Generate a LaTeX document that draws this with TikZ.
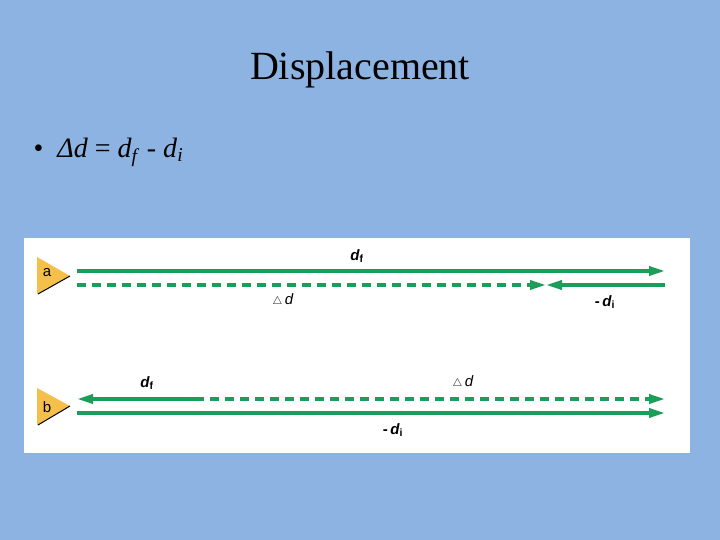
\documentclass[tikz,border=0pt]{standalone}
\usepackage{fontspec}
\setmainfont{Liberation Serif}
\newfontfamily\arialf{Liberation Sans}
\usetikzlibrary{arrows.meta}
\definecolor{bgblue}{HTML}{8DB3E2}
\definecolor{vgreen}{HTML}{1B9E5A}
\definecolor{tyellow}{HTML}{F4BF4A}
\begin{document}
\begin{tikzpicture}[x=1pt,y=-1pt,
  vec/.style={draw=vgreen,line width=3.5pt,-{Triangle[length=16pt,width=9pt]}},
  dvec/.style={vec,dash pattern=on 9pt off 6pt},
  lbl/.style={font=\arialf\itshape\bfseries\fontsize{15}{17}\selectfont,inner sep=0pt},
  dlbl/.style={font=\arialf\fontsize{15}{17}\selectfont,inner sep=0pt},
  tri/.style={fill=tyellow,draw=none}]
\fill[bgblue] (0,0) rectangle (720,540);
\fill[white] (24,238) rectangle (690,453);
\node[font=\fontsize{40}{46}\selectfont] (title) at (360,70) {Displacement};
\node[anchor=west,font=\fontsize{28}{32}\selectfont] (eq) at (30,152) {\textbullet\ \ \textit{Δd} = \textit{d}\textsubscript{\textit{f}} - \textit{d}\textsubscript{\textit{i}}};
% row a
\coordinate (a0) at (77,271); \coordinate (a1) at (665,271);
\coordinate (a2) at (77,285); \coordinate (am) at (546,285); \coordinate (a3) at (665,285);
\draw[vec] (a0) -- (a1);
\draw[dvec] (a2) -- (am);
\draw[vec] (a3) -- (am);
\node[lbl] (adf) at (357,256) {d\textsubscript{\upshape f}};
\node[dlbl] (add) at (283,300) {$\scriptstyle\triangle$\,\textit{d}};
\node[lbl] (adi) at (605,302) {\upshape -\,\itshape d\textsubscript{\upshape i}};
\fill[tri] (37,257) -- (70,276) -- (37,294) -- cycle;
\draw[line width=1pt] (38,294) -- (70,276);
\node[font=\arialf\fontsize{15}{17}\selectfont] (la) at (47,273) {a};
% row b
\coordinate (b0) at (77,399); \coordinate (bm) at (195,399); \coordinate (b1) at (665,399);
\coordinate (b2) at (77,413); \coordinate (b3) at (665,413);
\draw[dvec] (bm) -- (b1);
\draw[vec] (bm) -- (b0);
\draw[vec] (b2) -- (b3);
\node[lbl] (bdf) at (147,383) {d\textsubscript{\upshape f}};
\node[dlbl] (bdd) at (463,382) {$\scriptstyle\triangle$\,\textit{d}};
\node[lbl] (bdi) at (393,430) {\upshape -\,\itshape d\textsubscript{\upshape i}};
\fill[tri] (37,388) -- (70,406) -- (37,425) -- cycle;
\draw[line width=1pt] (38,425) -- (70,406);
\node[font=\arialf\fontsize{15}{17}\selectfont] (lb) at (47,407) {b};
\end{tikzpicture}
\end{document}
